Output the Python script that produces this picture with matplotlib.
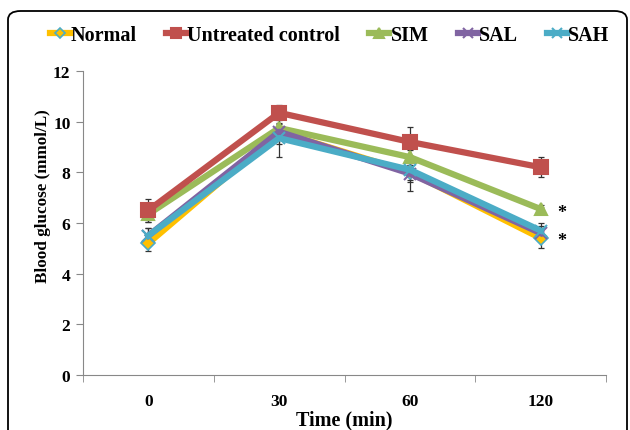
import matplotlib
matplotlib.use("Agg")
import matplotlib.pyplot as plt
from matplotlib.patches import FancyBboxPatch
import numpy as np

plt.rcParams['font.family'] = ['Liberation Serif', 'DejaVu Serif']
plt.rcParams['font.weight'] = 'bold'

# ------ data
times = ['0', '30', '60', '120']
series = ['Normal', 'Untreated control', 'SIM', 'SAL', 'SAH']
normal = [5.2, 9.6, 8.0, 5.4]
untreated = [6.5, 10.35, 9.2, 8.2]
sim = [6.35, 9.75, 8.6, 6.55]
sal = [5.5, 9.6, 7.95, 5.6]
sah = [5.5, 9.35, 8.1, 5.7]
normal_err = [0.3, 0.3, 0.3, 0.4]
untreated_err = [0.45, 0.3, 0.6, 0.4]
sim_err = [0.3, 0.2, 0.3, 0.15]
sal_err = [0.3, 0.5, 0.7, 0.3]
sah_err = [0.3, 0.75, 0.5, 0.3]

colors = ['#FFC000', '#C0504D', '#9BBB59', '#8064A2', '#4BACC6']
markers = ['D', 's', '^', 'x', 'x']
msizes = [7, 10, 9, 9, 9]

fig = plt.figure(figsize=(6.3, 4.31), dpi=100)
ax = fig.add_axes([0.1317, 0.1276, 0.8303, 0.7054])

# rounded frame round the figure
frame = FancyBboxPatch((8 / 630, -0.1), 619 / 630, 1 - 12 / 431 + 0.1,
                       boxstyle='round,pad=0,rounding_size=0.02',
                       transform=fig.transFigure, fill=False,
                       edgecolor='black', linewidth=1.3, clip_on=False)
fig.patches.append(frame)

x = np.arange(len(times))
vals = [normal, untreated, sim, sal, sah]
errs = [normal_err, untreated_err, sim_err, sal_err, sah_err]
handles = []
for i in range(len(series)):
    ax.errorbar(x, vals[i], yerr=errs[i], fmt='none', ecolor='#333333',
                elinewidth=0.9, capsize=2.5, capthick=0.9, zorder=2)
    mec = '#4BACC6' if i == 0 else colors[i]
    h, = ax.plot(x, vals[i], color=colors[i], lw=4.5, marker=markers[i],
                 ms=msizes[i], mec=mec, mew=1.2 if i == 0 else 1.5,
                 label=series[i], zorder=3 + (i == 1))
    handles.append(h)

ax.text(3.16, 6.4, '*', fontsize=13, ha='center', va='center')
ax.text(3.16, 5.3, '*', fontsize=13, ha='center', va='center')

ax.set_xlim(-0.5, 3.5)
ax.set_ylim(0, 12)
ax.set_yticks(np.arange(0, 13, 2))
ax.set_xticks(x)
ax.set_xticklabels(times)
ax.set_xticks(np.arange(-0.5, 3.6, 1), minor=True)
ax.tick_params(axis='x', which='major', length=0, pad=13, labelsize=12.5)
ax.tick_params(axis='x', which='minor', length=5, color='#888888')
ax.tick_params(axis='y', length=5, color='#888888', labelsize=12.5, pad=4)
for s in ['top', 'right']:
    ax.spines[s].set_visible(False)
for s in ['left', 'bottom']:
    ax.spines[s].set_color('#888888')
    ax.spines[s].set_linewidth(0.8)

ax.set_xlabel('Time (min)', fontsize=14.5, fontweight='bold', labelpad=0)
ax.set_ylabel('Blood glucose (mmol/L)', fontsize=12.3, fontweight='bold')
ax.yaxis.set_label_coords(-0.062, 0.592)

fig.legend(handles=handles, loc='center', bbox_to_anchor=(0.523, 0.917),
           ncol=5, frameon=False, handlelength=1.0, markerscale=0.75,
           handletextpad=0.05, columnspacing=1.45,
           prop={'weight': 'bold', 'size': 14.5})

fig.savefig('out.png', dpi=100)
